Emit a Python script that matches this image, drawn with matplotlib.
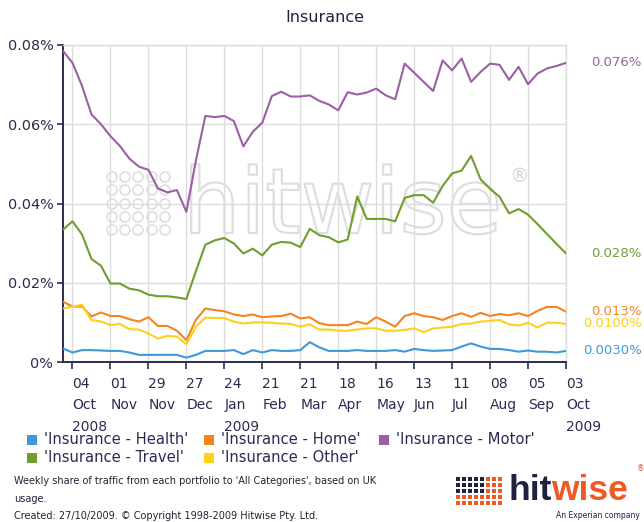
import datetime
import matplotlib
matplotlib.use("Agg")
import matplotlib.pyplot as plt
import matplotlib.transforms as mtransforms
import matplotlib.patheffects as pe
from matplotlib.patches import Rectangle, Circle

# ---------------- data ----------------
start_date = datetime.date(2008, 9, 27)
n_weeks = 54
dates = [start_date + datetime.timedelta(weeks=i) for i in range(n_weeks)]

health = [0.0034, 0.0024, 0.0030, 0.0030, 0.0029, 0.0028, 0.0028, 0.0024, 0.0018, 0.0018,
          0.0018, 0.0018, 0.0018, 0.0011, 0.0018, 0.0028, 0.0028, 0.0028, 0.0030, 0.0020,
          0.0030, 0.0024, 0.0030, 0.0028, 0.0028, 0.0030, 0.0050, 0.0037, 0.0028, 0.0028,
          0.0028, 0.0030, 0.0028, 0.0028, 0.0028, 0.0030, 0.0026, 0.0033, 0.0030, 0.0028,
          0.0029, 0.0030, 0.0039, 0.0047, 0.0039, 0.0033, 0.0033, 0.0030, 0.0026, 0.0029,
          0.0026, 0.0026, 0.0024, 0.0028]
home = [0.0152, 0.0140, 0.0140, 0.0115, 0.0125, 0.0116, 0.0116, 0.0108, 0.0102, 0.0113,
        0.0091, 0.0091, 0.0079, 0.0055, 0.0106, 0.0135, 0.0131, 0.0128, 0.0120, 0.0116,
        0.0120, 0.0113, 0.0115, 0.0116, 0.0122, 0.0110, 0.0113, 0.0098, 0.0093, 0.0093,
        0.0093, 0.0102, 0.0096, 0.0113, 0.0102, 0.0089, 0.0116, 0.0123, 0.0116, 0.0113,
        0.0106, 0.0116, 0.0123, 0.0114, 0.0124, 0.0116, 0.0121, 0.0118, 0.0123, 0.0116,
        0.0129, 0.0139, 0.0139, 0.0127]
motor = [0.0785, 0.0755, 0.0697, 0.0625, 0.0600, 0.0570, 0.0545, 0.0513, 0.0493, 0.0485,
         0.0438, 0.0428, 0.0434, 0.0379, 0.0508, 0.0621, 0.0618, 0.0621, 0.0608, 0.0544,
         0.0581, 0.0604, 0.0671, 0.0682, 0.0670, 0.0670, 0.0673, 0.0659, 0.0650, 0.0635,
         0.0681, 0.0675, 0.0680, 0.0690, 0.0673, 0.0663, 0.0753, 0.0730, 0.0707, 0.0684,
         0.0761, 0.0736, 0.0766, 0.0707, 0.0732, 0.0753, 0.0750, 0.0712, 0.0745, 0.0701,
         0.0728, 0.0741, 0.0747, 0.0755]
travel = [0.0334, 0.0355, 0.0322, 0.0260, 0.0243, 0.0198, 0.0198, 0.0185, 0.0181, 0.0170,
          0.0166, 0.0166, 0.0163, 0.0159, 0.0229, 0.0296, 0.0307, 0.0313, 0.0299, 0.0274,
          0.0286, 0.0269, 0.0296, 0.0303, 0.0301, 0.0290, 0.0336, 0.0320, 0.0315, 0.0302,
          0.0309, 0.0418, 0.0361, 0.0361, 0.0361, 0.0355, 0.0414, 0.0421, 0.0421, 0.0402,
          0.0444, 0.0476, 0.0483, 0.0520, 0.0461, 0.0437, 0.0417, 0.0375, 0.0386, 0.0372,
          0.0348, 0.0323, 0.0298, 0.0274]
other = [0.0135, 0.0140, 0.0144, 0.0106, 0.0102, 0.0093, 0.0096, 0.0083, 0.0082, 0.0072,
         0.0059, 0.0066, 0.0064, 0.0045, 0.0089, 0.0112, 0.0111, 0.0111, 0.0102, 0.0097,
         0.0100, 0.0100, 0.0099, 0.0097, 0.0096, 0.0089, 0.0095, 0.0082, 0.0082, 0.0079,
         0.0079, 0.0082, 0.0085, 0.0085, 0.0079, 0.0079, 0.0081, 0.0085, 0.0075, 0.0085,
         0.0087, 0.0089, 0.0096, 0.0097, 0.0102, 0.0104, 0.0106, 0.0095, 0.0092, 0.0099,
         0.0087, 0.0099, 0.0099, 0.0096]

series_names = ["'Insurance - Health'", "'Insurance - Home'", "'Insurance - Motor'",
                "'Insurance - Travel'", "'Insurance - Other'"]
series_values = [health, home, motor, travel, other]
series_colors = ["#3d9ad6", "#f5841f", "#9c5ea5", "#6f9e2c", "#fdd11a"]
end_labels = ["0.0030%", "0.013%", "0.076%", "0.028%", "0.0100%"]

tick_dates = [datetime.date(2008, 10, 4), datetime.date(2008, 11, 1), datetime.date(2008, 11, 29),
              datetime.date(2008, 12, 27), datetime.date(2009, 1, 24), datetime.date(2009, 2, 21),
              datetime.date(2009, 3, 21), datetime.date(2009, 4, 18), datetime.date(2009, 5, 16),
              datetime.date(2009, 6, 13), datetime.date(2009, 7, 11), datetime.date(2009, 8, 8),
              datetime.date(2009, 9, 5), datetime.date(2009, 10, 3)]
tick_labels = ["04\nOct\n2008", "01\nNov", "29\nNov", "27\nDec", "24\nJan\n2009", "21\nFeb",
               "21\nMar", "18\nApr", "16\nMay", "13\nJun", "11\nJul", "08\nAug", "05\nSep",
               "03\nOct\n2009"]
y_ticks = [0.0, 0.02, 0.04, 0.06, 0.08]
y_tick_labels = ["0%", "0.02%", "0.04%", "0.06%", "0.08%"]

title = "Insurance"
footer_lines = ["Weekly share of traffic from each portfolio to 'All Categories', based on UK",
                "usage.",
                "Created: 27/10/2009. \u00a9 Copyright 1998-2009 Hitwise Pty. Ltd."]

# ---------------- figure ----------------
W, H = 644, 522
fig = plt.figure(figsize=(W / 100, H / 100), dpi=100)
navy = "#2b2b52"
grid_c = "#dcdcdc"

L, R, T, B = 63, 566, 45, 362
ax = fig.add_axes([L / W, 1 - B / H, (R - L) / W, (B - T) / H])
ax.set_axisbelow(True)

for vals, col in zip(series_values, series_colors):
    ax.plot(dates, vals, color=col, lw=1.5, zorder=3, solid_joinstyle="round")

ax.set_xlim(dates[0], dates[-1])
ax.set_ylim(0, 0.08)
ax.set_yticks(y_ticks)
ax.set_yticklabels(y_tick_labels)
ax.set_xticks(tick_dates)
ax.set_xticklabels(tick_labels, ha="left", linespacing=1.65)
offset = mtransforms.ScaledTranslation(3 / 100, 0, fig.dpi_scale_trans)
for lab in ax.get_xticklabels():
    lab.set_transform(lab.get_transform() + offset)

ax.grid(True, color=grid_c, lw=1)
ax.tick_params(axis="both", colors=navy, labelcolor=navy, labelsize=10, direction="out")
ax.tick_params(axis="y", labelsize=10.4)
ax.tick_params(axis="x", length=5, width=1.2, pad=6)
ax.tick_params(axis="y", length=4, width=1.2, pad=3)
for s in ["top", "right"]:
    ax.spines[s].set_color(grid_c)
    ax.spines[s].set_linewidth(1)
for s in ["left", "bottom"]:
    ax.spines[s].set_color(navy)
    ax.spines[s].set_linewidth(1.4)

# watermark
ax.text(183 / W, 1 - 233 / H, "hitwise", transform=fig.transFigure, fontsize=65,
        family="DejaVu Sans", color="none", zorder=1, va="baseline", ha="left",
        path_effects=[pe.withStroke(linewidth=1.6, foreground="#dedede")])
ax.text(519 / W, 1 - 176 / H, "\u00ae", transform=fig.transFigure, fontsize=14,
        color="#d8d8d8", zorder=1, va="center", ha="center")
for cx in [112, 125, 138, 152, 165]:
    for cy in [177, 190, 204, 217, 230]:
        ax.add_patch(Circle((cx / 100, (H - cy) / 100), 0.05, transform=fig.dpi_scale_trans,
                            facecolor="none", edgecolor="#dedede", lw=1.2, zorder=1))

# end labels
blend = mtransforms.blended_transform_factory(fig.transFigure, ax.transData)
for vals, col, lab in zip(series_values, series_colors, end_labels):
    ax.text(642 / W, vals[-1], lab, transform=blend, ha="right", va="center",
            fontsize=9.5, color=col, clip_on=False)

# title
fig.text(325 / W, 1 - 17 / H, title, ha="center", va="center", fontsize=11.5, color="#222244")

# legend (manual, 3 columns)
col_x = [27, 204, 379]
row_y = [440, 458]
for k, (name, col) in enumerate(zip(series_names, series_colors)):
    r, c = divmod(k, 3)
    x0, y0 = col_x[c], row_y[r]
    fig.patches.append(Rectangle((x0 / W, 1 - (y0 + 5) / H), 10 / W, 10 / H,
                                 transform=fig.transFigure, facecolor=col, edgecolor="none"))
    fig.text((x0 + 17) / W, 1 - y0 / H, name, ha="left", va="center", fontsize=10.6, color=navy)

# footer
for i, line in enumerate(footer_lines):
    fig.text(14 / W, 1 - (481 + 17.5 * i) / H, line, ha="left", va="center",
             fontsize=7, color="#222233")

# hitwise logo
dark = "#1e2140"
orng = "#ee5a24"
for ci in range(8):
    for ri in range(5):
        colr = orng if (ri >= 3 or ci >= 5) else dark
        fig.patches.append(Rectangle(((456 + ci * 6) / W, 1 - (477 + ri * 6 + 4) / H), 4 / W, 4 / H,
                                     transform=fig.transFigure, facecolor=colr, edgecolor="none"))
t1 = fig.text(508 / W, 1 - 500 / H, "hit", ha="left", va="baseline", fontsize=25.5,
              family="Liberation Sans", weight="bold", color=dark)
fig.canvas.draw()
bb = t1.get_window_extent()
fig.text(bb.x1 / W, 1 - 500 / H, "wise", ha="left", va="baseline", fontsize=25.5,
         family="Liberation Sans", weight="bold", color=orng)
fig.text(641 / W, 1 - 469 / H, "\u00ae", ha="center", va="center", fontsize=5.5, color=orng)
fig.text(640 / W, 1 - 515 / H, "An Experian company", ha="right", va="center",
         fontsize=5.5, color=dark)

fig.savefig("out.png", dpi=100, facecolor="white")
